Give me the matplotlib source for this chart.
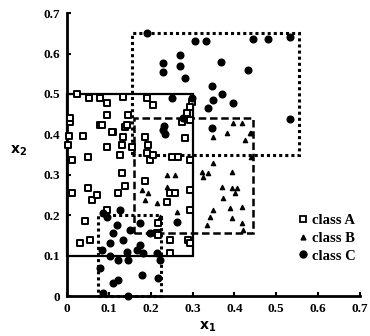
import matplotlib.pyplot as plt
from matplotlib.patches import Rectangle
from matplotlib.lines import Line2D

# class A (open squares)
a_x = [0.024, 0.053, 0.079, 0.095, 0.133, 0.19, 0.205, 0.095, 0.079, 0.146, 0.007, 0.005,
       0.038, 0.095, 0.11, 0.134, 0.138, 0.186, 0.19, 0.126, 0.05, 0.012, 0.05, 0.06,
       0.072, 0.012, 0.043, 0.031, 0.055, 0.095, 0.122, 0.138, 0.131, 0.186, 0.217, 0.246,
       0.215, 0.246, 0.258, 0.239, 0.217, 0.246, 0.289, 0.143, 0.193, 0.198, 0.205, 0.286,
       0.298, 0.274, 0.265, 0.25, 0.007, 0.002, 0.131, 0.155, 0.294, 0.294, 0.294, 0.294,
       0.294, 0.294, 0.282, 0.107, 0.083]
a_y = [0.5, 0.49, 0.49, 0.478, 0.493, 0.49, 0.473, 0.448, 0.423, 0.448, 0.43, 0.396,
       0.396, 0.369, 0.406, 0.394, 0.418, 0.394, 0.354, 0.35, 0.344, 0.337, 0.267, 0.238,
       0.25, 0.255, 0.186, 0.131, 0.139, 0.213, 0.255, 0.272, 0.304, 0.285, 0.18, 0.106,
       0.156, 0.255, 0.255, 0.233, 0.151, 0.139, 0.139, 0.423, 0.374, 0.337, 0.349, 0.453,
       0.48, 0.43, 0.344, 0.344, 0.44, 0.374, 0.374, 0.369, 0.468, 0.436, 0.337, 0.262,
       0.213, 0.131, 0.391, 0.406, 0.423]

# class B (small triangles)
b_x = [0.349, 0.382, 0.396, 0.418, 0.437, 0.425, 0.349, 0.394, 0.37, 0.394, 0.406, 0.372,
       0.389, 0.418, 0.394, 0.418, 0.349, 0.341, 0.334, 0.42, 0.322, 0.326, 0.44, 0.44,
       0.337, 0.179, 0.193, 0.186, 0.215, 0.239, 0.262, 0.222, 0.239, 0.258, 0.401]
b_y = [0.394, 0.403, 0.428, 0.428, 0.403, 0.386, 0.329, 0.307, 0.27, 0.267, 0.267, 0.243,
       0.218, 0.22, 0.193, 0.181, 0.213, 0.196, 0.176, 0.163, 0.307, 0.294, 0.403, 0.344,
       0.304, 0.262, 0.255, 0.238, 0.23, 0.27, 0.208, 0.196, 0.3, 0.3, 0.255]

# class C (filled circles)
c_x = [0.305, 0.332, 0.444, 0.48, 0.532, 0.367, 0.432, 0.282, 0.346, 0.37, 0.348, 0.396,
       0.337, 0.532, 0.298, 0.346, 0.19, 0.229, 0.27, 0.27, 0.229, 0.25, 0.23, 0.277,
       0.083, 0.103, 0.122, 0.143, 0.167, 0.181, 0.079, 0.11, 0.122, 0.179, 0.217, 0.146,
       0.086, 0.086, 0.11, 0.103, 0.134, 0.15, 0.174, 0.198, 0.119, 0.127, 0.095, 0.146,
       0.215, 0.222, 0.262, 0.174, 0.232, 0.235]
c_y = [0.631, 0.631, 0.636, 0.636, 0.64, 0.58, 0.56, 0.54, 0.52, 0.5, 0.485, 0.478,
       0.465, 0.438, 0.49, 0.415, 0.65, 0.577, 0.596, 0.57, 0.555, 0.49, 0.41, 0.44,
       0.114, 0.1, 0.089, 0.109, 0.114, 0.106, 0.069, 0.032, 0.04, 0.052, 0.045, 0.0,
       0.007, 0.205, 0.155, 0.13, 0.139, 0.163, 0.18, 0.155, 0.176, 0.213, 0.195, 0.089,
       0.106, 0.089, 0.183, 0.126, 0.42, 0.4]

# boxes: (x0, y0, x1, y1)
box_a = (0.0, 0.1, 0.3, 0.5)
box_b = (0.16, 0.155, 0.445, 0.44)
box_c1 = (0.155, 0.35, 0.555, 0.65)
box_c2 = (0.075, 0.0, 0.225, 0.2)

ticks = [0, 0.1, 0.2, 0.3, 0.4, 0.5, 0.6, 0.7]
tick_labels = ['0', '0.1', '0.2', '0.3', '0.4', '0.5', '0.6', '0.7']

plt.rcParams['font.family'] = ['Liberation Serif', 'DejaVu Serif']
plt.rcParams['font.weight'] = 'bold'

fig = plt.figure(figsize=(3.7, 3.36), dpi=100)
ax = fig.add_axes([0.181, 0.119, 0.792, 0.842])


def add_box(b, ls, lw):
    r = Rectangle((b[0], b[1]), b[2] - b[0], b[3] - b[1], fill=False,
                  edgecolor='black', linestyle=ls, linewidth=lw, clip_on=False)
    ax.add_patch(r)


add_box(box_a, '-', 1.6)
add_box(box_b, (0, (3, 1.5)), 1.8)
add_box(box_c1, (0, (1, 1)), 2.2)
add_box(box_c2, (0, (1, 1)), 2.2)

ax.scatter(a_x, a_y, marker='s', s=16, facecolors='white', edgecolors='black',
           linewidths=1.4, clip_on=False, zorder=3)
ax.scatter(b_x, b_y, marker='^', s=9, color='black', clip_on=False, zorder=3)
ax.scatter(c_x, c_y, marker='o', s=23, color='black', clip_on=False, zorder=3)

ax.set_xlim(0, 0.7)
ax.set_ylim(0, 0.7)
ax.set_xticks(ticks)
ax.set_xticklabels(tick_labels)
ax.set_yticks(ticks)
ax.set_yticklabels(tick_labels)
ax.tick_params(direction='in', length=3, width=1.5, labelsize=9.5, pad=5)
for s in ['top', 'right']:
    ax.spines[s].set_visible(False)
for s in ['left', 'bottom']:
    ax.spines[s].set_linewidth(2)

ax.text(0.335, -0.075, '$\\mathbf{x_1}$', ha='center', va='center', fontsize=10)
ax.text(-0.115, 0.36, '$\\mathbf{x_2}$', ha='center', va='center', fontsize=10)

handles = [
    Line2D([], [], marker='s', linestyle='none', markerfacecolor='white',
           markeredgecolor='black', markeredgewidth=1.3, markersize=4),
    Line2D([], [], marker='^', linestyle='none', color='black', markersize=3.5),
    Line2D([], [], marker='o', linestyle='none', color='black', markersize=5),
]
ax.legend(handles, ['class A', 'class B', 'class C'], loc='upper left',
          bbox_to_anchor=(0.755, 0.315), frameon=False, fontsize=10.5,
          handletextpad=0.1, handlelength=1.0, labelspacing=0.3, borderpad=0)

fig.savefig('out.png', dpi=100)
